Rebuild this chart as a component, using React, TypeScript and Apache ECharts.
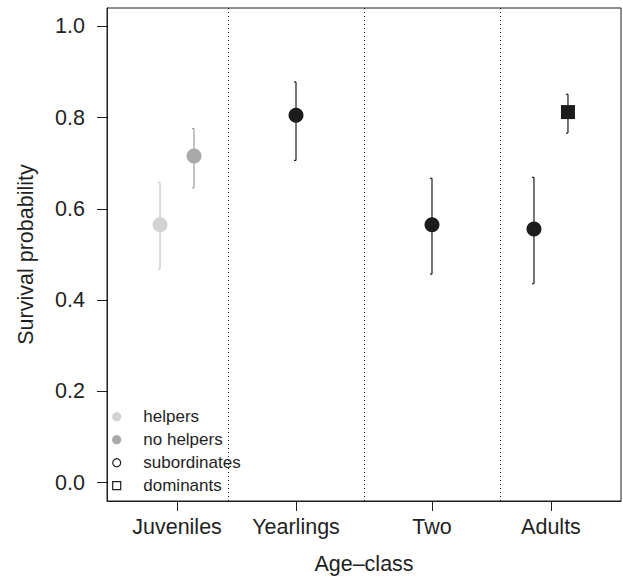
import React, { useEffect, useRef } from "react";
import * as echarts from "echarts";

// ---- data ----
const groups = ["helpers", "no helpers", "subordinates", "dominants"];
const groupFill = ["#d3d3d3", "#a9a9a9", "#1c1c1c", "#1c1c1c"];
const groupBar = ["#c6c6c6", "#9c9c9c", "#1c1c1c", "#1c1c1c"];
const groupSymbol = ["circle", "circle", "circle", "rect"];

const pointX = [1.0, 1.25, 2.0, 3.0, 3.75, 4.0];
const pointGroup = [0, 1, 2, 2, 2, 3];
const estimate = [0.565, 0.716, 0.805, 0.565, 0.556, 0.812];
const lower = [0.468, 0.646, 0.706, 0.457, 0.436, 0.766];
const upper = [0.658, 0.776, 0.878, 0.667, 0.669, 0.851];

const xTickPositions = [1.125, 2, 3, 3.875];
const xTickLabels = ["Juveniles", "Yearlings", "Two", "Adults"];
const yTicks = [0, 0.2, 0.4, 0.6, 0.8, 1.0];
const dividers = [1.5, 2.5, 3.5];

const FONT = "'Liberation Sans', Arial, Helvetica, sans-serif";
const INK = "#1f1f1f";

// legend layout (inside the plot, bottom-left)
const LEG_X = 116.7;
const LEG_TEXT_X = 143.3;
const LEG_Y0 = 416.7;
const LEG_DY = 23;

export default function App() {
  const ref = useRef<HTMLDivElement>(null);

  useEffect(() => {
    if (!ref.current) return;
    const chart = echarts.init(ref.current, null, { renderer: "svg" });

    const series: any[] = [];
    groups.forEach((g, gi) => {
      const idx = pointX.map((_, i) => i).filter((i) => pointGroup[i] === gi);
      series.push({
        name: g + " CI",
        type: "custom",
        z: 2,
        silent: true,
        clip: false,
        data: idx.map((i) => [pointX[i], lower[i], upper[i]]),
        encode: { x: 0, y: [1, 2] },
        renderItem: (params: any, api: any) => {
          const x = api.value(0);
          const p1 = api.coord([x, api.value(1)]);
          const p2 = api.coord([x, api.value(2)]);
          const st = { stroke: groupBar[gi], lineWidth: 1.2 };
          return {
            type: "group",
            children: [
              { type: "line", shape: { x1: p1[0], y1: p1[1], x2: p2[0], y2: p2[1] }, style: st },
              { type: "line", shape: { x1: p1[0] - 2, y1: p1[1], x2: p1[0], y2: p1[1] }, style: st },
              { type: "line", shape: { x1: p2[0] - 2, y1: p2[1], x2: p2[0], y2: p2[1] }, style: st },
            ],
          };
        },
      });
      series.push({
        name: g,
        type: "scatter",
        z: 3,
        symbol: groupSymbol[gi],
        symbolSize: groupSymbol[gi] === "rect" ? 14 : 15,
        itemStyle: { color: groupFill[gi], opacity: 1 },
        data: idx.map((i) => [pointX[i], estimate[i]]),
        ...(gi === 2
          ? {
              markLine: {
                silent: true,
                symbol: ["none", "none"],
                label: { show: false },
                lineStyle: { type: [1, 3], color: INK, width: 1 },
                data: dividers.map((v) => ({ xAxis: v })),
              },
            }
          : {}),
      });
    });

    // legend drawn as graphics (keys: filled light, filled dark, open circle, open square)
    const legendGraphics: any[] = [];
    groups.forEach((g, gi) => {
      const y = LEG_Y0 + gi * LEG_DY;
      if (gi < 2) {
        legendGraphics.push({
          type: "circle",
          shape: { cx: LEG_X, cy: y, r: 4.6 },
          style: { fill: groupFill[gi] },
        });
      } else if (gi === 2) {
        legendGraphics.push({
          type: "circle",
          shape: { cx: LEG_X, cy: y, r: 4 },
          style: { fill: "#ffffff", stroke: INK, lineWidth: 1.2 },
        });
      } else {
        legendGraphics.push({
          type: "rect",
          shape: { x: LEG_X - 4, y: y - 4, width: 8, height: 8 },
          style: { fill: "#ffffff", stroke: INK, lineWidth: 1.2 },
        });
      }
      legendGraphics.push({
        type: "text",
        x: LEG_TEXT_X,
        y: y,
        style: {
          text: g,
          fill: INK,
          fontSize: 17,
          fontFamily: FONT,
          align: "left",
          verticalAlign: "middle",
        },
      });
    });

    chart.setOption({
      animation: false,
      backgroundColor: "#ffffff",
      textStyle: { fontFamily: FONT },
      grid: {
        left: 107,
        top: 8,
        right: 2,
        bottom: 77,
        show: true,
        borderColor: INK,
        borderWidth: 1,
        backgroundColor: "transparent",
      },
      graphic: legendGraphics,
      xAxis: {
        type: "value",
        min: 0.61,
        max: 4.39,
        name: "Age\u2013class",
        nameLocation: "middle",
        nameGap: 52,
        nameTextStyle: { fontSize: 21.5, color: INK, fontFamily: FONT },
        splitLine: { show: false },
        axisLine: { show: true, onZero: false, lineStyle: { color: INK, width: 1 } },
        axisTick: {
          show: true,
          length: 10,
          customValues: xTickPositions,
          lineStyle: { color: INK, width: 1 },
        },
        axisLabel: {
          customValues: xTickPositions,
          margin: 15,
          fontSize: 21.5,
          color: INK,
          fontFamily: FONT,
          formatter: (v: number) => {
            const i = xTickPositions.findIndex((p) => Math.abs(p - v) < 1e-6);
            return i >= 0 ? xTickLabels[i] : "";
          },
        },
      },
      yAxis: {
        type: "value",
        min: -0.04,
        max: 1.04,
        name: "Survival probability",
        nameLocation: "middle",
        nameGap: 70,
        nameTextStyle: { fontSize: 21.5, color: INK, fontFamily: FONT },
        splitLine: { show: false },
        axisLine: { show: true, onZero: false, lineStyle: { color: INK, width: 1 } },
        axisTick: {
          show: true,
          length: 10,
          customValues: yTicks,
          lineStyle: { color: INK, width: 1 },
        },
        axisLabel: {
          customValues: yTicks,
          margin: 22,
          fontSize: 21.5,
          color: INK,
          fontFamily: FONT,
          formatter: (v: number) => v.toFixed(1),
        },
      },
      series,
    });

    return () => chart.dispose();
  }, []);

  return (
    <div
      ref={ref}
      style={{ position: "absolute", left: 0, top: 0, width: 623, height: 580 }}
    />
  );
}
